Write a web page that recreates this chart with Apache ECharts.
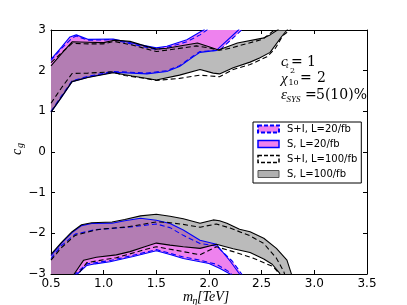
<!DOCTYPE html>
<html><head><meta charset="utf-8">
<script src="https://cdn.jsdelivr.net/npm/echarts@6/dist/echarts.min.js"></script>
<style>html,body{margin:0;padding:0;background:#fff}#c{width:407px;height:305px}</style>
</head><body><div id="c"></div>
<script>
// ---- tick labels ----
const xTickLabels = ['0.5','1.0','1.5','2.0','2.5','3.0','3.5'];
const yTickLabels = ['\u22123','\u22122','\u22121','0','1','2','3'];
const legendNames = ['S+I, L=20/fb','S, L=20/fb','S+I, L=100/fb','S, L=100/fb'];

// ---- upper region (c_g > 0) ----
const s100TopUp = [[0.5,2.12],[0.6,2.42],[0.7,2.71],[0.85,2.70],[1.0,2.69],[1.1,2.75],[1.25,2.72],[1.39,2.61],[1.5,2.53],[1.6,2.55],[1.75,2.62],[1.89,2.68],[2.0,2.59],[2.09,2.51],[2.27,2.68],[2.51,2.80],[2.58,2.88],[2.65,3.0],[2.69,3.1]];
const s100TopLo = [[0.5,0.98],[0.6,1.35],[0.7,1.73],[0.85,1.83],[1.09,1.95],[1.27,1.87],[1.5,1.77],[1.72,1.89],[1.915,2.03],[2.04,1.94],[2.1,1.92],[2.23,2.07],[2.39,2.21],[2.48,2.31],[2.58,2.45],[2.69,2.84],[2.74,3.0],[2.77,3.1]];
const si100TopUp = [[0.5,2.2],[0.6,2.44],[0.7,2.67],[0.85,2.66],[1.0,2.66],[1.1,2.72],[1.27,2.63],[1.5,2.47],[1.7,2.54],[1.88,2.61],[2.0,2.56],[2.1,2.5],[2.2,2.55],[2.35,2.66],[2.51,2.77],[2.62,3.0],[2.66,3.1]];
const si100TopLo = [[0.5,1.2],[0.6,1.58],[0.7,1.93],[0.85,1.94],[1.08,1.97],[1.2,1.88],[1.39,1.81],[1.5,1.76],[1.72,1.81],[1.915,1.89],[2.1,1.85],[2.23,2.03],[2.39,2.15],[2.55,2.34],[2.63,2.55],[2.7,2.86],[2.77,3.0],[2.8,3.1]];
const s20TopUp = [[0.5,2.28],[0.6,2.58],[0.68,2.83],[0.74,2.88],[0.85,2.77],[1.09,2.78],[1.36,2.63],[1.5,2.56],[1.6,2.6],[1.79,2.76],[1.915,2.95],[1.95,3.0],[1.98,3.1]];
const s20TopLo = [[0.5,0.98],[0.6,1.35],[0.7,1.73],[0.85,1.84],[1.09,1.96],[1.41,1.92],[1.6,1.98],[1.72,2.10],[1.85,2.34],[1.915,2.45],[2.07,2.5],[2.28,3.0],[2.3,3.1]];
const si20TopUp = [[0.5,2.25],[0.6,2.55],[0.7,2.8],[0.74,2.85],[0.85,2.75],[1.09,2.76],[1.36,2.6],[1.5,2.52],[1.6,2.57],[1.79,2.71],[1.915,2.88],[1.98,3.0],[2.01,3.1]];
const si20TopLo = [[0.5,1.0],[0.6,1.38],[0.7,1.75],[0.85,1.86],[1.09,1.98],[1.41,1.94],[1.6,2.0],[1.72,2.12],[1.85,2.36],[1.915,2.47],[2.1,2.5],[2.31,3.0],[2.33,3.1]];

// ---- lower region (c_g < 0) ----
const s100BotUp = [[0.5,-2.52],[0.6,-2.22],[0.7,-1.96],[0.79,-1.79],[0.886,-1.74],[1.08,-1.72],[1.2,-1.66],[1.35,-1.57],[1.5,-1.53],[1.63,-1.58],[1.756,-1.64],[1.915,-1.75],[2.04,-1.67],[2.1,-1.69],[2.17,-1.75],[2.29,-1.9],[2.39,-1.96],[2.52,-2.12],[2.64,-2.37],[2.74,-2.66],[2.78,-2.98],[2.8,-3.1]];
const s100BotLo = [[0.5,-3.1],[0.7,-3.1],[0.72,-3.0],[0.81,-2.66],[0.93,-2.59],[1.12,-2.53],[1.25,-2.45],[1.39,-2.33],[1.5,-2.24],[1.63,-2.29],[1.756,-2.33],[1.915,-2.37],[2.07,-2.27],[2.23,-2.38],[2.39,-2.47],[2.52,-2.63],[2.6,-2.76],[2.67,-2.98],[2.68,-3.1]];
const si100BotUp = [[0.5,-2.66],[0.6,-2.35],[0.73,-2.05],[0.92,-1.92],[1.0,-1.89],[1.23,-1.84],[1.5,-1.72],[1.6,-1.73],[1.756,-1.78],[1.915,-1.85],[2.07,-1.77],[2.2,-1.87],[2.33,-2.0],[2.39,-2.06],[2.52,-2.25],[2.64,-2.61],[2.71,-2.94],[2.73,-3.1]];
const si100BotLo = [[0.5,-3.1],[0.74,-3.1],[0.76,-3.0],[0.84,-2.72],[1.0,-2.65],[1.12,-2.6],[1.39,-2.4],[1.5,-2.33],[1.756,-2.45],[1.915,-2.53],[2.07,-2.33],[2.23,-2.45],[2.42,-2.61],[2.61,-2.82],[2.67,-3.0],[2.68,-3.1]];
const s20BotUp = [[0.5,-2.55],[0.6,-2.24],[0.7,-1.98],[0.79,-1.81],[0.886,-1.76],[1.08,-1.75],[1.2,-1.69],[1.35,-1.63],[1.5,-1.68],[1.63,-1.76],[1.756,-1.92],[1.915,-2.17],[2.07,-2.27],[2.2,-2.68],[2.29,-3.0],[2.3,-3.1]];
const s20BotLo = [[0.5,-3.1],[0.72,-3.1],[0.75,-3.0],[0.84,-2.79],[0.92,-2.75],[1.06,-2.70],[1.28,-2.57],[1.5,-2.43],[1.63,-2.52],[1.756,-2.62],[1.915,-2.70],[2.0,-2.74],[2.1,-2.86],[2.2,-3.0],[2.22,-3.1]];
const si20BotUp = [[0.5,-2.62],[0.6,-2.3],[0.73,-2.02],[0.92,-1.91],[1.23,-1.85],[1.5,-1.77],[1.63,-1.86],[1.756,-2.05],[1.915,-2.25],[2.07,-2.31],[2.22,-2.68],[2.31,-3.0],[2.32,-3.1]];
const si20BotLo = [[0.5,-3.1],[0.7,-3.1],[0.73,-3.0],[0.84,-2.75],[1.06,-2.67],[1.28,-2.54],[1.5,-2.40],[1.756,-2.58],[1.915,-2.66],[2.07,-2.76],[2.2,-2.96],[2.24,-3.1]];

const PINK = '#ee82ee', BLUE = '#0000ff', GRAYFILL = 'rgba(120,120,120,0.5)';
const DASH = [5,3];

function fillSeries(name, up, lo, color, z){
  return {
    type:'custom', name, coordinateSystem:'cartesian2d', z, silent:true, clip:true,
    data:[[up[0][0], up[0][1]]],
    renderItem(params, api){
      const pts = up.concat(lo.slice().reverse()).map(p => api.coord(p));
      const cs = params.coordSys;
      return {type:'polygon', shape:{points:pts}, style:{fill:color, stroke:'none'},
        clipPath:{type:'rect', shape:{x:cs.x, y:cs.y, width:cs.width, height:cs.height}}};
    }
  };
}
function lineSeries(data, color, dashed, z){
  return {type:'line', name:'_', data, showSymbol:false, symbol:'none', clip:true, silent:true, z,
    lineStyle:{color, width:1.1, type: dashed ? DASH : 'solid'}, animation:false};
}

const series = [
  fillSeries(legendNames[0], si20TopUp, si20TopLo, PINK, 1),
  fillSeries(legendNames[0], si20BotUp, si20BotLo, PINK, 1),
  fillSeries(legendNames[1], s20TopUp, s20TopLo, PINK, 1),
  fillSeries(legendNames[1], s20BotUp, s20BotLo, PINK, 1),
  fillSeries(legendNames[2], si100TopUp, si100TopLo, 'rgba(0,0,0,0)', 1),
  fillSeries(legendNames[3], s100TopUp, s100TopLo, GRAYFILL, 2),
  fillSeries(legendNames[3], s100BotUp, s100BotLo, GRAYFILL, 2),
];
[[si20TopUp,BLUE,true],[si20TopLo,BLUE,true],[si20BotUp,BLUE,true],[si20BotLo,BLUE,true],
 [s20TopUp,BLUE,false],[s20TopLo,BLUE,false],[s20BotUp,BLUE,false],[s20BotLo,BLUE,false],
 [si100TopUp,'#000',true],[si100TopLo,'#000',true],[si100BotUp,'#000',true],[si100BotLo,'#000',true],
 [s100TopUp,'#000',false],[s100TopLo,'#000',false],[s100BotUp,'#000',false],[s100BotLo,'#000',false]
].forEach(([d,c,dash]) => series.push(lineSeries(d,c,dash,3)));

const axisCommon = {
  axisLine:{show:true, onZero:false, lineStyle:{color:'#000', width:1}},
  axisTick:{show:true, inside:true, length:4, lineStyle:{color:'#000'}},
  splitLine:{show:false}
};
const xLab = v => xTickLabels[Math.round((v-0.5)/0.5)];
const yLab = v => yTickLabels[Math.round(v+3)];

const chart = echarts.init(document.getElementById('c'), null, {renderer:'canvas'});
const serif = 'Liberation Serif';
function T(x,y,text,size,italic,fam){
  return {type:'text', x, y, silent:true, z:100,
    style:{text, fill:'#000', align:'left', verticalAlign:'middle',
      font:(italic?'italic ':'')+size+'px "'+(fam||serif)+'"'}};
}
chart.setOption({
  animation:false,
  grid:{left:51, right:40, top:30, bottom:31, containLabel:false},
  xAxis:[
    Object.assign({type:'value', min:0.5, max:3.5, interval:0.5, position:'bottom',
      axisLabel:{color:'#000', fontFamily:'DejaVu Sans', fontSize:12, margin:4, formatter:xLab, showMinLabel:true, showMaxLabel:true}}, axisCommon),
    Object.assign({type:'value', min:0.5, max:3.5, interval:0.5, position:'top', axisLabel:{show:false}}, axisCommon)
  ],
  yAxis:[
    Object.assign({type:'value', min:-3, max:3, interval:1, position:'left',
      axisLabel:{color:'#000', fontFamily:'DejaVu Sans', fontSize:12, margin:5, formatter:yLab, showMinLabel:true, showMaxLabel:true}}, axisCommon),
    Object.assign({type:'value', min:-3, max:3, interval:1, position:'right', axisLabel:{show:false}}, axisCommon)
  ],
  legend:{
    orient:'vertical', left:253, top:122, padding:[2,4,4,4], itemGap:5,
    itemWidth:21, itemHeight:7, borderColor:'#000', borderWidth:1, backgroundColor:'#fff',
    selectedMode:false,
    textStyle:{fontFamily:'DejaVu Sans', fontSize:10, color:'#000', lineHeight:10, padding:[0,0,0,3]},
    data:[
      {name:legendNames[0], icon:'rect', itemStyle:{color:PINK, borderColor:BLUE, borderWidth:2, borderType:[4,2]}},
      {name:legendNames[1], icon:'rect', itemStyle:{color:PINK, borderColor:BLUE, borderWidth:1.5, borderType:'solid'}},
      {name:legendNames[2], icon:'rect', itemStyle:{color:'#fff', borderColor:'#000', borderWidth:1.5, borderType:[4,2]}},
      {name:legendNames[3], icon:'rect', itemStyle:{color:'#b0b0b0', borderColor:'#555', borderWidth:1, borderType:'solid'}}
    ]
  },
  graphic:[
    // annotation
    T(281,62,'c',15,true), T(286,66,'t',9,true), T(291,62,'=',14,false,'DejaVu Serif'), T(307,62,'1',14,false,'DejaVu Serif'),
    T(281,79,'\u03c7',15,true), T(290,71,'2',8,false,'DejaVu Serif'), T(288.5,83,'10',8,false,'DejaVu Serif'),
    T(300,78,'=',14,false,'DejaVu Serif'), T(317,78,'2',14,false,'DejaVu Serif'),
    T(281,95,'\u03b5',15,true), T(286.5,100,'SYS',9,true), T(305,95,'=',14,false,'DejaVu Serif'), T(316,95,'5(10)%',14,false,'DejaVu Serif'),
    // x axis name
    T(183,297,'m',14,true), T(192.5,301,'\u03b7',10,true), T(197,297,'[TeV]',14,true),
    // y axis name (rotated)
    {type:'group', x:17, y:152, rotation:Math.PI/2, silent:true, children:[
      T(-3,0,'c',14,true), {type:'text', x:4, y:3, style:{text:'g', fill:'#000', align:'left', verticalAlign:'middle', font:'italic 10px "'+serif+'"'}}
    ]}
  ],
  series
});
</script></body></html>
